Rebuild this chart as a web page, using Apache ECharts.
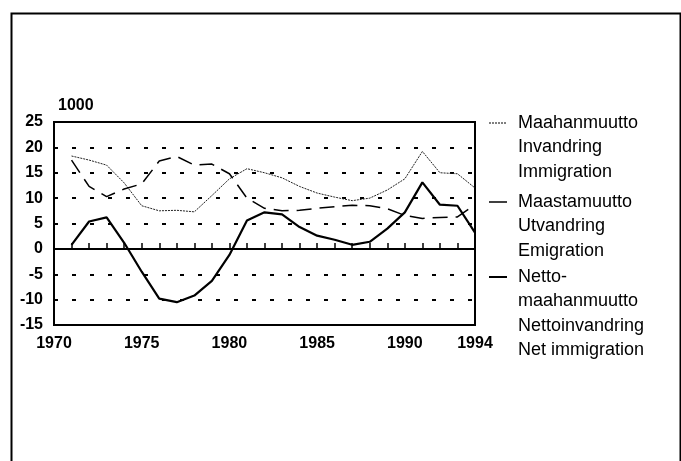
<!DOCTYPE html>
<html>
<head>
<meta charset="utf-8">
<script src="https://cdn.jsdelivr.net/npm/echarts@6/dist/echarts.min.js"></script>
<style>
html,body{margin:0;padding:0;background:#fff;}
#chart{width:681px;height:461px;}
</style>
</head>
<body>
<div id="chart"></div>
<script>
// vuodet / years
const years = [1971,1972,1973,1974,1975,1976,1977,1978,1979,1980,1981,1982,
  1983,1984,1985,1986,1987,1988,1989,1990,1991,1992,1993,1994]
// 1000 henkeä
const immigration = [18.3,17.5,16.5,13,8.5,7.5,7.6,7.3,10.5,13.8,15.8,15,
  14,12.3,11,10.2,9.5,10,11.6,13.8,19.2,15,14.8,12]
const emigration = [17.5,12.3,10.3,11.8,12.8,17.3,18.2,16.5,16.7,14.8,10,8,
  7.5,7.6,8,8.3,8.6,8.5,7.9,6.6,6,6.2,6.3,8.7]
const netImmigration = [0.8,5.4,6.2,1.2,-4.5,-9.8,-10.5,-9.2,-6.3,-1.2,5.6,7.2,
  6.8,4.3,2.6,1.8,0.8,1.4,4,7.2,13.1,8.7,8.5,3.2]
const xLabels = [1970,1975,1980,1985,1990,1994]
const legendNames = [
  ['Maahanmuutto','Invandring','Immigration'],
  ['Maastamuutto','Utvandring','Emigration'],
  ['Netto-','maahanmuutto','Nettoinvandring','Net immigration']
]

const pairs = (vals)=>years.map((y,i)=>[y,vals[i]])
const labelFont = {fontFamily:'Liberation Sans, sans-serif', fontWeight:'bold', fontSize:16, color:'#000'}

// legend drawn by hand, one block per series
const legendTop = [123,202,277]
const legendDash = [[2,1],'solid','solid']
const legendWidth = [1,1.5,2]
let graphic = [{
  type:'rect', left:9, top:11,
  shape:{width:669, height:470},
  style:{fill:'none', stroke:'#000', lineWidth:2}
},{
  type:'text', left:58, top:98,
  style:{text:'1000', font:'bold 16px "Liberation Sans", sans-serif', fill:'#000'}
}]
legendNames.forEach((lines,k)=>{
  graphic.push({
    type:'line',
    shape:{x1:489, y1:legendTop[k], x2:507, y2:legendTop[k]},
    style:{stroke:'#000', lineWidth:legendWidth[k], lineDash:legendDash[k]}
  })
  lines.forEach((t,j)=>{
    graphic.push({
      type:'text', left:518, top:legendTop[k]-9+j*24.5,
      style:{text:t, font:'18px "Liberation Sans", sans-serif', fill:'#000'}
    })
  })
})

let chart = echarts.init(document.getElementById('chart'), null, {renderer:'canvas'})
let option = {
  animation:false,
  backgroundColor:'#fff',
  grid:{
    left:54, right:206, top:122, bottom:136,
    show:true, borderColor:'#000', borderWidth:2, backgroundColor:'transparent'
  },
  xAxis:{
    type:'value', min:1970, max:1994, interval:1,
    axisLine:{show:true, lineStyle:{color:'#000', width:2}},
    axisTick:{show:true, inside:true, length:6, lineStyle:{color:'#000', width:1.5}},
    splitLine:{show:false},
    axisLabel:Object.assign({
      margin:11,
      showMaxLabel:true,
      formatter:(v)=>xLabels.indexOf(v) >= 0 ? String(v) : ''
    }, labelFont)
  },
  yAxis:{
    type:'value', min:-15, max:25, interval:5,
    axisLine:{show:true, lineStyle:{color:'#000', width:2}},
    axisTick:{show:false},
    splitLine:{show:true, lineStyle:{color:'#000', width:2, type:[4,14]}},
    axisLabel:Object.assign({margin:11}, labelFont)
  },
  graphic:graphic,
  series:[{
    name:'Maahanmuutto',
    type:'line',
    data:pairs(immigration),
    symbol:'none',
    lineStyle:{color:'#222', width:1, type:[2,1]},
    markLine:{
      silent:true, symbol:'none', label:{show:false},
      lineStyle:{color:'#000', width:2, type:'solid'},
      data:[{yAxis:0}]
    }
  },{
    name:'Maastamuutto',
    type:'line',
    data:pairs(emigration),
    symbol:'none',
    lineStyle:{color:'#000', width:1.5, type:[15,8]}
  },{
    name:'Nettomaahanmuutto',
    type:'line',
    data:pairs(netImmigration),
    symbol:'none',
    lineStyle:{color:'#000', width:2.2}
  }]
}
chart.setOption(option)
</script>
</body>
</html>
